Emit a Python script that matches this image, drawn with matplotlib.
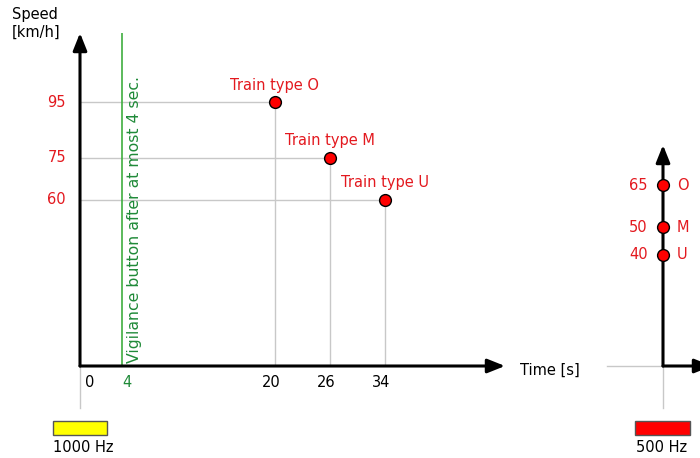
import numpy as np
import matplotlib.pyplot as plt
from matplotlib.patches import Rectangle

# data
train_types = ['O', 'M', 'U']
reaction_times = [20, 26, 34]          # s, at 1000 Hz
speeds_1000 = [95, 75, 60]             # km/h
speeds_500 = [65, 50, 40]              # km/h, 500 Hz magnet
vigilance_time = 4
tick_times = [0, 4, 20, 26, 34]

# the time axis of the drawing is schematic (not to scale)
time_knots = [0, 4, 20, 26, 34, 51]
pos_knots = [0, 42, 195, 250, 305, 425]

RED = '#e3191f'
GREEN_LINE = '#3fae3f'
GREEN_TEXT = '#1f8a38'
GRID = '#c8c8c8'
FS = 10.5

W, H = 700, 458


def px_box(x0, y0, x1, y1):
    return [x0 / W, 1 - y1 / H, (x1 - x0) / W, (y1 - y0) / H]


def arrow(ax, start, end):
    ax.annotate('', xy=end, xytext=start, xycoords='axes fraction',
                arrowprops=dict(arrowstyle='-|>,head_length=0.75,head_width=0.3',
                                lw=2.2, color='black', shrinkA=0, shrinkB=0,
                                mutation_scale=14),
                annotation_clip=False)


fig = plt.figure(figsize=(W / 100, H / 100), dpi=100)

# overlay for decorations in pixel coordinates
deco = fig.add_axes([0, 0, 1, 1])
deco.set_xlim(0, W)
deco.set_ylim(H, 0)
deco.axis('off')
deco.plot([80, 80], [366, 408], color=GRID, lw=1)
deco.plot([607, 663], [366, 366], color=GRID, lw=1)
deco.plot([663, 663], [366, 408], color=GRID, lw=1)
deco.add_patch(Rectangle((53, 421), 54, 14, facecolor='#ffff00', edgecolor='#555555', lw=1))
deco.add_patch(Rectangle((635, 421), 55, 14, facecolor='#ff0000', edgecolor='#555555', lw=1))
deco.text(53, 448, '1000 Hz', fontsize=FS, va='center', ha='left')
deco.text(636, 448, '500 Hz', fontsize=FS, va='center', ha='left')
deco.text(12, 15, 'Speed', fontsize=FS, va='center', ha='left')
deco.text(12, 32, '[km/h]', fontsize=FS, va='center', ha='left')
deco.text(520, 370, 'Time [s]', fontsize=FS, va='center', ha='left')

# main panel: 1000 Hz supervision
ax = fig.add_axes(px_box(80, 33, 505, 366))
ax.set_xscale('function', functions=(lambda x: np.interp(x, time_knots, pos_knots),
                                     lambda p: np.interp(p, pos_knots, time_knots)))
ax.set_xlim(0, 51)
ax.set_ylim(0, 120)
ax.axis('off')

for t, s in zip(reaction_times, speeds_1000):
    ax.plot([0, t], [s, s], color=GRID, lw=1, zorder=1)
    ax.plot([t, t], [0, s], color=GRID, lw=1, zorder=1)
ax.plot(reaction_times, speeds_1000, 'o', ms=8.5, mfc='#ff0000', mec='black', mew=1, zorder=4)
for name, t, s in zip(train_types, reaction_times, speeds_1000):
    ax.annotate(f'Train type {name}', (t, s), xytext=(0, 7), textcoords='offset points',
                ha='center', va='bottom', color=RED, fontsize=FS)
    ax.annotate(str(s), (0, s), xytext=(-10, 0), textcoords='offset points',
                xycoords=('axes fraction', 'data'), ha='right', va='center',
                color=RED, fontsize=FS)

ax.axvline(vigilance_time, color=GREEN_LINE, lw=1.2, zorder=2)
ax.annotate('Vigilance button after at most 4 sec.', (vigilance_time, 1),
            xytext=(3.5, 0), textcoords='offset points', rotation=90,
            rotation_mode='anchor', ha='left', va='top', color=GREEN_TEXT, fontsize=11.3)

for t in tick_times:
    if t == 0:
        ax.annotate('0', (t, 0), xytext=(3.5, -6.5), textcoords='offset points',
                    ha='left', va='top', fontsize=FS, annotation_clip=False)
    elif t == vigilance_time:
        ax.annotate(str(t), (t, 0), xytext=(0.5, -6.5), textcoords='offset points',
                    ha='left', va='top', fontsize=FS, color=GREEN_TEXT, annotation_clip=False)
    else:
        ax.annotate(str(t), (t, 0), xytext=(-3, -6.5), textcoords='offset points',
                    ha='center', va='top', fontsize=FS, annotation_clip=False)

arrow(ax, (0, 0), (1, 0))
arrow(ax, (0, 0), (0, 1))

# right panel: 500 Hz supervision
ax2 = fig.add_axes(px_box(663, 145, 712, 366))
ax2.set_xlim(0, 1)
ax2.set_ylim(0, 221 / 2.78)
ax2.axis('off')
ax2.plot([0] * len(speeds_500), speeds_500, 'o', ms=8.5, mfc='#ff0000', mec='black',
         mew=1, zorder=4, clip_on=False)
for name, s in zip(train_types, speeds_500):
    ax2.annotate(str(s), (0, s), xytext=(-11, 0), textcoords='offset points',
                 ha='right', va='center', color=RED, fontsize=FS)
    ax2.annotate(name, (0, s), xytext=(10, 0), textcoords='offset points',
                 ha='left', va='center', color=RED, fontsize=FS, annotation_clip=False)
arrow(ax2, (0, 0), (1, 0))
arrow(ax2, (0, 0), (0, 1))

fig.savefig('out.png', dpi=100)
